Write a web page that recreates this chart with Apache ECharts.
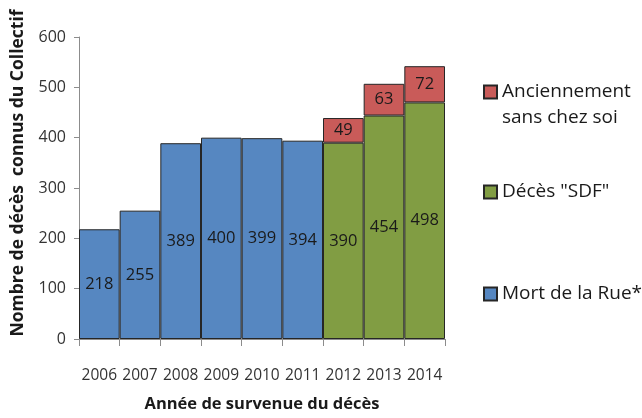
<!DOCTYPE html>
<html>
<head>
<meta charset="utf-8">
<script src="https://cdn.jsdelivr.net/npm/echarts@6/dist/echarts.min.js"></script>
<style>
html,body{margin:0;padding:0;background:#fff;}
#c{width:642px;height:418px;}
</style>
</head>
<body>
<div id="c"></div>
<script>
var years = ['2006','2007','2008','2009','2010','2011','2012','2013','2014'];
var mortRue = [218,255,389,400,399,394,null,null,null];
var decesSDF = [null,null,null,null,null,null,390,444,470];
var decesSDFLabels = ['','','','','','','390','454','498'];
var anciennement = [null,null,null,null,null,null,49,63,72];
var yTicks = [0,100,200,300,400,500,600];

var FONT = '"Open Sans", "Liberation Sans", sans-serif';
var chart = echarts.init(document.getElementById('c'), null, {renderer:'canvas'});

function lbl(fmt){
  return {show:true, position:'inside', color:'#1a1a1a', fontFamily:FONT, fontSize:16.5, formatter:fmt};
}
var border = {borderColor:'#262626', borderWidth:1};

chart.setOption({
  animation:false,
  grid:{left:79, right:197, top:37, bottom:67, containLabel:false},
  xAxis:{
    type:'category', data:years,
    axisLine:{lineStyle:{color:'#8c8c8c'}},
    axisTick:{show:true, interval:0, length:7, lineStyle:{color:'#8c8c8c'}},
    axisLabel:{interval:0, color:'#333', fontFamily:FONT, fontSize:15.5, margin:29},
    name:'Année de survenue du décès', nameLocation:'middle', nameGap:57,
    nameTextStyle:{fontFamily:FONT, fontWeight:'bold', fontSize:16.5, color:'#1a1a1a'}
  },
  yAxis:{
    type:'value', min:yTicks[0], max:yTicks[yTicks.length-1], interval:100,
    axisLine:{show:true, lineStyle:{color:'#8c8c8c'}},
    axisTick:{show:true, length:5, lineStyle:{color:'#8c8c8c'}},
    splitLine:{show:false},
    axisLabel:{color:'#333', fontFamily:FONT, fontSize:16, margin:13}
  },
  legend:[
    {data:['Anciennement sans chez soi'], left:483, top:53, padding:0, icon:'rect',
     itemWidth:13, itemHeight:13,
     formatter:function(){return '\nAnciennement\nsans chez soi';},
     textStyle:{fontFamily:FONT, fontSize:19, color:'#1a1a1a', lineHeight:26}},
    {data:['Décès "SDF"'], left:483, top:182, padding:0, icon:'rect',
     itemWidth:13, itemHeight:13,
     textStyle:{fontFamily:FONT, fontSize:19, color:'#1a1a1a', lineHeight:20}},
    {data:['Mort de la Rue*'], left:483, top:284, padding:0, icon:'rect',
     itemWidth:13, itemHeight:13,
     textStyle:{fontFamily:FONT, fontSize:19, color:'#1a1a1a', lineHeight:20}}
  ],
  graphic:[
    {type:'text', x:18, y:173, rotation:Math.PI/2,
     style:{text:'Nombre de décès  connus du Collectif', font:'bold 17.5px '+FONT, fill:'#1a1a1a', align:'center', verticalAlign:'middle'}}
  ],
  series:[
    {name:'Mort de la Rue*', type:'bar', stack:'t', data:mortRue, barWidth:'100%', barCategoryGap:'0%',
     itemStyle:Object.assign({color:'#5687C1'}, border),
     label:lbl(function(p){return p.value;})},
    {name:'Décès "SDF"', type:'bar', stack:'t', data:decesSDF, barWidth:'100%', barCategoryGap:'0%',
     itemStyle:Object.assign({color:'#819D43'}, border),
     label:lbl(function(p){return decesSDFLabels[p.dataIndex];})},
    {name:'Anciennement sans chez soi', type:'bar', stack:'t', data:anciennement, barWidth:'100%', barCategoryGap:'0%',
     itemStyle:Object.assign({color:'#C95B59'}, border),
     label:lbl(function(p){return p.value;})}
  ]
});
</script>
</body>
</html>
